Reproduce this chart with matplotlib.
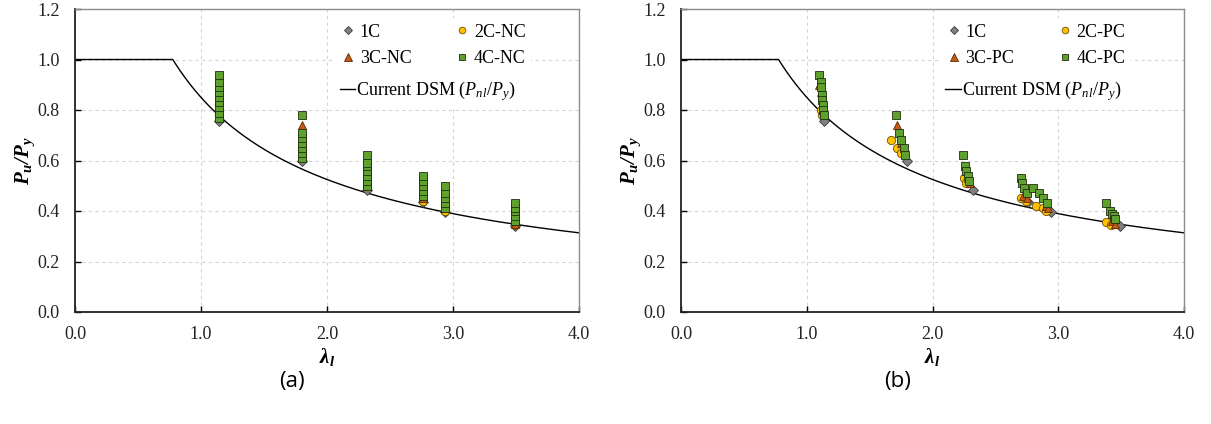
import numpy as np
import matplotlib
matplotlib.use("Agg")
import matplotlib.pyplot as plt
from matplotlib.lines import Line2D

plt.rcParams['font.family'] = ['Liberation Serif', 'DejaVu Serif']
plt.rcParams['mathtext.fontset'] = 'custom'
plt.rcParams['mathtext.rm'] = 'Liberation Serif'
plt.rcParams['mathtext.it'] = 'Liberation Serif:italic'
plt.rcParams['mathtext.bf'] = 'Liberation Serif:bold:italic'

# ---------------- Data: panel (a) NC ----------------
a_1c_x = [1.14, 1.80, 2.32, 2.76, 2.94, 3.49]
a_1c_y = [0.755, 0.60, 0.485, 0.435, 0.395, 0.34]

a_2c_x = [1.14, 1.14, 1.80, 1.80, 2.32, 2.32, 2.76, 2.76, 2.94, 2.94, 3.49, 3.49]
a_2c_y = [0.78, 0.80, 0.62, 0.64, 0.50, 0.52, 0.44, 0.45, 0.40, 0.42, 0.345, 0.355]

a_3c_x = [1.14, 1.14, 1.14, 1.80, 1.80, 1.80, 2.32, 2.32, 2.32, 2.76, 2.76, 2.94, 2.94, 3.49, 3.49]
a_3c_y = [0.85, 0.87, 0.91, 0.64, 0.67, 0.74, 0.51, 0.54, 0.58, 0.45, 0.48, 0.41, 0.43, 0.35, 0.36]

a_4c_x = [1.14]*9 + [1.80]*7 + [2.32]*7 + [2.76]*5 + [2.94]*5 + [3.49]*5
a_4c_y = [0.77, 0.79, 0.81, 0.83, 0.85, 0.87, 0.89, 0.91, 0.94,
          0.61, 0.63, 0.65, 0.67, 0.69, 0.71, 0.78,
          0.50, 0.52, 0.54, 0.56, 0.58, 0.59, 0.62,
          0.46, 0.48, 0.50, 0.52, 0.54,
          0.41, 0.43, 0.45, 0.47, 0.50,
          0.36, 0.38, 0.40, 0.41, 0.43]

# ---------------- Data: panel (b) PC ----------------
b_1c_x = [1.14, 1.80, 2.32, 2.76, 2.94, 3.49]
b_1c_y = [0.755, 0.60, 0.485, 0.435, 0.395, 0.34]

b_2c_x = [1.11, 1.12, 1.67, 1.72, 1.75, 2.25, 2.27, 2.70, 2.74, 2.82, 2.88, 2.90, 3.38, 3.42]
b_2c_y = [0.80, 0.78, 0.68, 0.65, 0.63, 0.53, 0.51, 0.45, 0.44, 0.42, 0.41, 0.40, 0.355, 0.345]

b_3c_x = [1.10, 1.11, 1.12, 1.72, 1.75, 2.28, 2.30, 2.72, 2.75, 2.90, 2.92, 3.43, 3.45]
b_3c_y = [0.90, 0.87, 0.85, 0.74, 0.67, 0.53, 0.51, 0.46, 0.45, 0.42, 0.41, 0.36, 0.35]

b_4c_x = [1.10, 1.11, 1.11, 1.12, 1.12, 1.13, 1.13, 1.14,
          1.71, 1.73, 1.75, 1.77, 1.78,
          2.24, 2.26, 2.27, 2.28, 2.29,
          2.70, 2.71, 2.73, 2.75, 2.80, 2.85, 2.88, 2.91,
          3.38, 3.41, 3.43, 3.44, 3.45]
b_4c_y = [0.94, 0.91, 0.89, 0.86, 0.84, 0.82, 0.80, 0.78,
          0.78, 0.71, 0.68, 0.65, 0.62,
          0.62, 0.58, 0.56, 0.54, 0.52,
          0.53, 0.51, 0.49, 0.47, 0.49, 0.47, 0.45, 0.43,
          0.43, 0.40, 0.39, 0.38, 0.37]

# DSM local buckling curve constants
lam_limit = 0.776
dsm_a = 0.15
dsm_exp = 0.8

x_ticks = [0.0, 1.0, 2.0, 3.0, 4.0]
y_ticks = [0.0, 0.2, 0.4, 0.6, 0.8, 1.0, 1.2]

series_style = {
    '1C': dict(marker='D', ms=4.8, mfc='#808080', mec='#3a3a3a'),
    '2C': dict(marker='o', ms=6.0, mfc='#FFC000', mec='#6b5000'),
    '3C': dict(marker='^', ms=6.4, mfc='#C55A11', mec='#5a2a05'),
    '4C': dict(marker='s', ms=5.8, mfc='#5FA12C', mec='#1e2e10'),
}

fig = plt.figure(figsize=(12.11, 4.24), dpi=100)
ax_a = fig.add_axes([75/1211, 1-312/424, 504/1211, 303/424])
ax_b = fig.add_axes([681/1211, 1-312/424, 503/1211, 303/424])

lam = np.linspace(0.0, 4.0, 800)
dsm = np.where(lam <= lam_limit, 1.0,
               (1 - dsm_a / np.maximum(lam, 1e-9)**dsm_exp) / np.maximum(lam, 1e-9)**dsm_exp)


def draw(ax, data, suffix, letter, letter_x):
    ax.plot(lam, dsm, color='black', lw=1.0, zorder=2)
    handles = []
    for key, (xs, ys), lab in zip(['1C', '2C', '3C', '4C'], data,
                                  ['1C', '2C-' + suffix, '3C-' + suffix, '4C-' + suffix]):
        st = series_style[key]
        ax.plot(xs, ys, linestyle='none', marker=st['marker'], markersize=st['ms'],
                markerfacecolor=st['mfc'], markeredgecolor=st['mec'], markeredgewidth=0.6,
                zorder=3)
        handles.append(Line2D([], [], linestyle='none', marker=st['marker'],
                              markersize=st['ms'] * 0.8, markerfacecolor=st['mfc'],
                              markeredgecolor=st['mec'], markeredgewidth=0.6, label=lab))
    ax.set_xlim(0, 4.0)
    ax.set_ylim(0, 1.2)
    ax.set_xticks(x_ticks)
    ax.set_yticks(y_ticks)
    ax.set_xticklabels([f'{t:.1f}' for t in x_ticks])
    ax.set_yticklabels([f'{t:.1f}' for t in y_ticks])
    ax.tick_params(direction='in', length=4, width=1, labelsize=13, labelcolor='#222222')
    ax.tick_params(axis='y', pad=11)
    ax.tick_params(axis='x', pad=10)
    ax.grid(True, color='#d4d4d4', linestyle=(0, (3, 3)), linewidth=0.8)
    ax.set_axisbelow(True)
    for s in ['top', 'right']:
        ax.spines[s].set_color('#8c8c8c')
        ax.spines[s].set_linewidth(1.0)
    for s in ['left', 'bottom']:
        ax.spines[s].set_color('#222222')
        ax.spines[s].set_linewidth(1.3)
    ax.set_ylabel(r'$\mathbf{P_u/P_y}$', fontsize=15, labelpad=0)
    ax.set_xlabel(r'$\mathbf{\lambda_l}$', fontsize=15, labelpad=2)

    order = [handles[0], handles[2], handles[1], handles[3]]
    leg1 = ax.legend(handles=order, ncol=2, loc='upper left',
                     bbox_to_anchor=(0.515, 0.97), frameon=True, fontsize=13,
                     handletextpad=0.2, handlelength=0.9, columnspacing=2.35,
                     labelspacing=0.55, borderpad=0.3, borderaxespad=0)
    leg1.get_frame().set_facecolor('white')
    leg1.get_frame().set_edgecolor('none')
    leg1.get_frame().set_alpha(1)
    ax.add_artist(leg1)
    line_h = Line2D([], [], color='black', lw=1.0, label=r'Current DSM ($P_{nl}/P_y$)')
    leg2 = ax.legend(handles=[line_h], loc='upper left', bbox_to_anchor=(0.515, 0.785),
                     frameon=True, fontsize=13, handlelength=0.85, handletextpad=0.05,
                     borderpad=0.3, borderaxespad=0)
    leg2.get_frame().set_facecolor('white')
    leg2.get_frame().set_edgecolor('none')
    leg2.get_frame().set_alpha(1)

    fig.text(letter_x, 1 - 381/424, letter, fontsize=16, family=['Open Sans', 'DejaVu Sans'],
             ha='center', va='center')


draw(ax_a, [(a_1c_x, a_1c_y), (a_2c_x, a_2c_y), (a_3c_x, a_3c_y), (a_4c_x, a_4c_y)],
     'NC', '(a)', 292/1211)
draw(ax_b, [(b_1c_x, b_1c_y), (b_2c_x, b_2c_y), (b_3c_x, b_3c_y), (b_4c_x, b_4c_y)],
     'PC', '(b)', 898/1211)

fig.savefig('out.png', dpi=100)
